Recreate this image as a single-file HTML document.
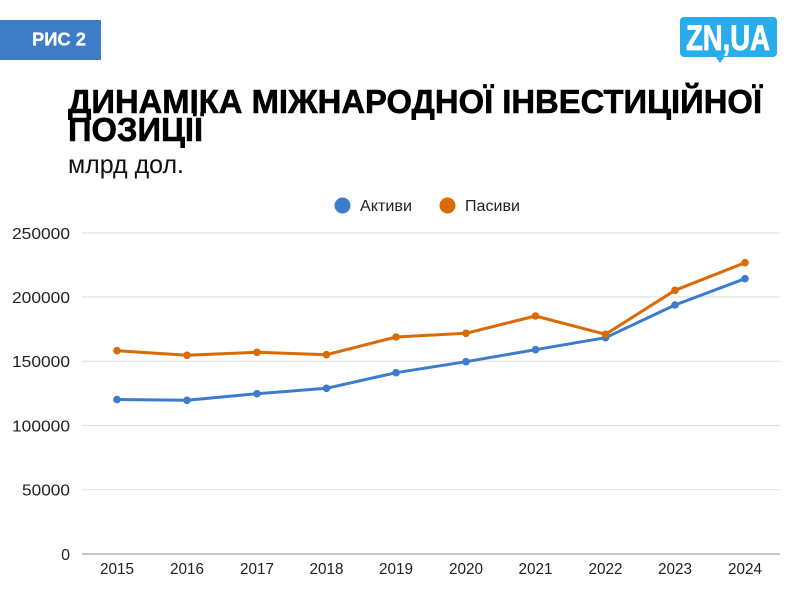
<!DOCTYPE html>
<html><head><meta charset="utf-8"><style>
html,body{margin:0;padding:0;background:#fff;}
svg{display:block;}
text{font-family:"Liberation Sans","DejaVu Sans",sans-serif;}
</style></head><body>
<svg width="800" height="600" viewBox="0 0 800 600" xmlns="http://www.w3.org/2000/svg">
<rect width="800" height="600" fill="#fff"/>
<!-- badge -->
<rect x="0" y="20" width="101" height="40" fill="#3f7cc8"/>
<text x="32" y="45.5" font-size="18" font-weight="bold" fill="#fff" stroke="#fff" stroke-width="0.3" textLength="54" lengthAdjust="spacingAndGlyphs">РИС 2</text>
<!-- logo -->
<rect x="680" y="17" width="97" height="40" rx="4" fill="#29adea"/>
<path d="M715 56 L720 63 L725 56 Z" fill="#29adea"/>
<text x="686" y="50" font-size="35" font-weight="bold" fill="#fff" stroke="#fff" stroke-width="0.8" textLength="84" lengthAdjust="spacingAndGlyphs">ZN,UA</text>
<!-- title -->
<text x="68" y="113" font-size="33.5" font-weight="bold" fill="#000" stroke="#000" stroke-width="0.6" textLength="694" lengthAdjust="spacingAndGlyphs">ДИНАМІКА МІЖНАРОДНОЇ ІНВЕСТИЦІЙНОЇ</text>
<text x="68" y="141" font-size="33.5" font-weight="bold" fill="#000" stroke="#000" stroke-width="0.6" textLength="135" lengthAdjust="spacingAndGlyphs">ПОЗИЦІЇ</text>
<text x="68" y="173" font-size="26" fill="#111" textLength="116" lengthAdjust="spacingAndGlyphs">млрд дол.</text>
<!-- legend -->
<circle cx="342.5" cy="205.5" r="8" fill="#3d7bcc"/>
<text x="360" y="211" font-size="16" fill="#222" textLength="52" lengthAdjust="spacingAndGlyphs">Активи</text>
<circle cx="447.5" cy="205.5" r="8" fill="#d96b06"/>
<text x="465" y="211" font-size="16" fill="#222" textLength="55" lengthAdjust="spacingAndGlyphs">Пасиви</text>
<!-- gridlines -->
<g stroke="#e2e2e2" stroke-width="1.2">
<line x1="82" x2="780" y1="233" y2="233"/>
<line x1="82" x2="780" y1="297" y2="297"/>
<line x1="82" x2="780" y1="361.3" y2="361.3"/>
<line x1="82" x2="780" y1="425.5" y2="425.5"/>
<line x1="82" x2="780" y1="489.7" y2="489.7"/>
</g>
<line x1="82" x2="780" y1="554" y2="554" stroke="#c8c8c8" stroke-width="2"/>
<!-- y labels -->
<g font-size="16" fill="#222" text-anchor="end">
<text x="70" y="239" textLength="58" lengthAdjust="spacingAndGlyphs">250000</text>
<text x="70" y="303" textLength="58" lengthAdjust="spacingAndGlyphs">200000</text>
<text x="70" y="367" textLength="58" lengthAdjust="spacingAndGlyphs">150000</text>
<text x="70" y="431.5" textLength="58" lengthAdjust="spacingAndGlyphs">100000</text>
<text x="70" y="495.5" textLength="48" lengthAdjust="spacingAndGlyphs">50000</text>
<text x="70" y="560">0</text>
</g>
<!-- x labels -->
<g font-size="16" fill="#222" text-anchor="middle">
<text x="117" y="574" textLength="34" lengthAdjust="spacingAndGlyphs">2015</text>
<text x="187" y="574" textLength="34" lengthAdjust="spacingAndGlyphs">2016</text>
<text x="257" y="574" textLength="34" lengthAdjust="spacingAndGlyphs">2017</text>
<text x="326.5" y="574" textLength="34" lengthAdjust="spacingAndGlyphs">2018</text>
<text x="396" y="574" textLength="34" lengthAdjust="spacingAndGlyphs">2019</text>
<text x="466" y="574" textLength="34" lengthAdjust="spacingAndGlyphs">2020</text>
<text x="535.5" y="574" textLength="34" lengthAdjust="spacingAndGlyphs">2021</text>
<text x="605.5" y="574" textLength="34" lengthAdjust="spacingAndGlyphs">2022</text>
<text x="675" y="574" textLength="34" lengthAdjust="spacingAndGlyphs">2023</text>
<text x="745" y="574" textLength="34" lengthAdjust="spacingAndGlyphs">2024</text>
</g>
<!-- blue series -->
<polyline fill="none" stroke="#3d7bcc" stroke-width="3" stroke-linejoin="round" points="117,399.5 187,400.3 257,393.7 326.5,388.3 396,372.7 466,361.7 535.5,349.7 605.5,337.7 675,305 745,278.7"/>
<g fill="#3d7bcc">
<circle cx="117" cy="399.5" r="3.8"/><circle cx="187" cy="400.3" r="3.8"/><circle cx="257" cy="393.7" r="3.8"/><circle cx="326.5" cy="388.3" r="3.8"/><circle cx="396" cy="372.7" r="3.8"/><circle cx="466" cy="361.7" r="3.8"/><circle cx="535.5" cy="349.7" r="3.8"/><circle cx="605.5" cy="337.7" r="3.8"/><circle cx="675" cy="305" r="3.8"/><circle cx="745" cy="278.7" r="3.8"/>
</g>
<!-- orange series -->
<polyline fill="none" stroke="#d96b06" stroke-width="3" stroke-linejoin="round" points="117,350.7 187,355.3 257,352.3 326.5,354.7 396,337 466,333.3 535.5,316 605.5,334.3 675,290.3 745,262.7"/>
<g fill="#d96b06">
<circle cx="117" cy="350.7" r="3.8"/><circle cx="187" cy="355.3" r="3.8"/><circle cx="257" cy="352.3" r="3.8"/><circle cx="326.5" cy="354.7" r="3.8"/><circle cx="396" cy="337" r="3.8"/><circle cx="466" cy="333.3" r="3.8"/><circle cx="535.5" cy="316" r="3.8"/><circle cx="605.5" cy="334.3" r="3.8"/><circle cx="675" cy="290.3" r="3.8"/><circle cx="745" cy="262.7" r="3.8"/>
</g>
</svg>
</body></html>
